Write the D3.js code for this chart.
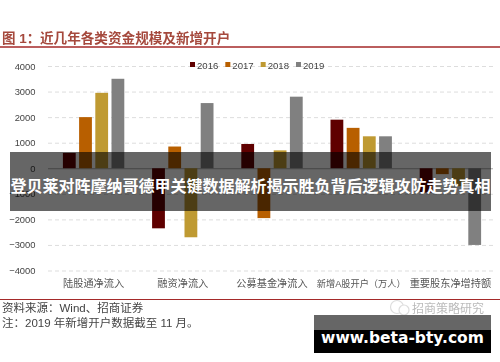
<!DOCTYPE html>
<html>
<head>
<meta charset="utf-8">
<script src="https://cdn.jsdelivr.net/npm/d3@7"></script>
<style>
html, body { margin: 0; padding: 0; background: #fff; }
svg { display: block; }
text { font-family: "Liberation Sans", "Noto Sans CJK SC", sans-serif; }
</style>
</head>
<body>
<div id="the_chart"></div>
<script>
var categories = ["陆股通净流入", "融资净流入", "公募基金净流入", "新增A股开户（万人）", "重要股东净增持额"];
var years = ["2016", "2017", "2018", "2019"];
var colors = ["#5e0000", "#b85f00", "#bf9a33", "#808080"];
var values2016 = [600, -2350, 950, 1900, -950];
var values2017 = [2000, 850, -1950, 1580, -230];
var values2018 = [2950, -2700, 700, 1250, -700];
var values2019 = [3500, 2550, 2800, 1250, -3000];
var series = [values2016, values2017, values2018, values2019];
var y_ticks = [4000, 3000, 2000, 1000, 0, -1000, -2000, -3000, -4000];

var w = 500;
var h = 362;

var svg = d3.select("#the_chart")
    .append("svg")
    .attr("width", w)
    .attr("height", h);

// the source is a soft screenshot, so the chart gets a little blur
var blur = svg.append("defs").append("filter")
    .attr("id", "soft")
    .attr("x", "-5%").attr("y", "-5%")
    .attr("width", "110%").attr("height", "110%");
blur.append("feGaussianBlur").attr("stdDeviation", 0.4);

var chart = svg.append("g").attr("filter", "url(#soft)");

var yscale = d3.scaleLinear() // 4000 -> -4000
    .domain([-4000, 4000])
    .range([270.5, 66]);
var xscale = d3.scaleBand()
    .domain(categories)
    .range([49, 495]);
var inner = d3.scaleBand() // bars inside one group
    .domain(years)
    .range([-30.7, 30.7])
    .paddingInner(0.21);

// title
chart.append("text")
    .attr("x", 2).attr("y", 43)
    .attr("font-size", 13.5)
    .attr("font-weight", "bold")
    .attr("fill", "#a5483c")
    .text("图 1：");
chart.append("text")
    .attr("x", 40).attr("y", 43)
    .attr("font-size", 13.6)
    .attr("font-weight", "bold")
    .attr("fill", "#a5483c")
    .text("近几年各类资金规模及新增开户");
chart.append("line")
    .attr("x1", 0).attr("x2", w)
    .attr("y1", 47).attr("y2", 47)
    .attr("stroke", "#a52a2a").attr("stroke-width", 1.5);

// y axis, the ticks double as dashed grid lines
var yaxis = d3.axisLeft()
    .scale(yscale)
    .tickValues(y_ticks)
    .tickFormat(function (d) { return d < 0 ? "−" + Math.abs(d) : d; })
    .tickSize(-445)
    .tickPadding(12.5);

var yg = chart.append("g")
    .attr("transform", "translate(48,0)")
    .call(yaxis);
yg.select(".domain").remove();
yg.selectAll("line")
    .attr("stroke", function (d) { return d === 0 ? "#aaa" : "#ddd"; })
    .attr("stroke-dasharray", function (d) { return d === 0 ? null : "4 3"; });
yg.selectAll("text")
    .attr("font-size", 9.4)
    .attr("font-family", "Liberation Sans")
    .attr("fill", "#444");

// bars
series.forEach(function (vals, s) {
    chart.append("g")
        .selectAll("rect")
        .data(vals)
        .enter().append("rect")
        .attr("x", function (d, i) {
            return xscale(categories[i]) + xscale.bandwidth() / 2 + inner(years[s]);
        })
        .attr("width", inner.bandwidth())
        .attr("y", function (d) { return yscale(Math.max(d, 0)); })
        .attr("height", function (d) { return Math.abs(yscale(d) - yscale(0)); })
        .attr("fill", colors[s]);
});

// category labels
chart.append("g")
    .selectAll("text")
    .data(categories)
    .enter().append("text")
    .attr("x", function (d) { return xscale(d) + xscale.bandwidth() / 2; })
    .attr("y", 287)
    .attr("text-anchor", "middle")
    .attr("font-size", function (d, i) { return i === 3 ? 9.2 : 10.2; })
    .attr("fill", "#555")
    .text(function (d) { return d; });

// legend
var legend_x = d3.scalePoint().domain(years).range([190, 296]);
var legend = chart.append("g")
    .selectAll("g")
    .data(years)
    .enter().append("g")
    .attr("transform", function (d) { return "translate(" + legend_x(d) + ",65)"; });
legend.append("rect")
    .attr("x", 0).attr("y", -3)
    .attr("width", 5).attr("height", 5)
    .attr("fill", function (d, i) { return colors[i]; });
legend.append("text")
    .attr("x", 7).attr("y", 3.5)
    .attr("font-size", 9.6)
    .attr("fill", "#444")
    .text(function (d) { return d; });

// footer
chart.append("line")
    .attr("x1", 0).attr("x2", w)
    .attr("y1", 299.5).attr("y2", 299.5)
    .attr("stroke", "#a52a2a").attr("stroke-width", 1.2);
chart.append("text")
    .attr("x", 2).attr("y", 312)
    .attr("font-size", 11.5)
    .attr("fill", "#444")
    .text("资料来源：Wind、招商证券");
chart.append("text")
    .attr("x", 2).attr("y", 327)
    .attr("font-size", 11.5)
    .attr("fill", "#444")
    .text("注：2019 年新增开户数据截至 11 月。");

// watermark
chart.append("circle")
    .attr("cx", 397).attr("cy", 307).attr("r", 6.5)
    .attr("fill", "none").attr("stroke", "#ddd").attr("stroke-width", 1.2);
chart.append("circle")
    .attr("cx", 404).attr("cy", 310).attr("r", 5)
    .attr("fill", "#fff").attr("stroke", "#ddd").attr("stroke-width", 1.2);
chart.append("text")
    .attr("x", 412).attr("y", 313)
    .attr("font-size", 12)
    .attr("fill", "#bbb")
    .text("招商策略研究");

// banner over the chart
svg.append("rect")
    .attr("x", 10).attr("y", 152)
    .attr("width", 481).attr("height", 59)
    .attr("fill", "#000").attr("fill-opacity", 0.6);
svg.append("text")
    .attr("x", 250.5).attr("y", 192)
    .attr("text-anchor", "middle")
    .attr("font-size", 16)
    .attr("font-weight", "bold")
    .attr("fill", "#fff")
    .style("font-family", '"Noto Sans CJK SC"')
    .text("登贝莱对阵摩纳哥德甲关键数据解析揭示胜负背后逻辑攻防走势真相");

// site stamp
svg.append("rect")
    .attr("x", 314).attr("y", 315)
    .attr("width", 177).attr("height", 15)
    .attr("fill", "#666");
svg.append("rect")
    .attr("x", 314).attr("y", 330)
    .attr("width", 177).attr("height", 23)
    .attr("fill", "#000");
svg.append("text")
    .attr("x", 402.5).attr("y", 343)
    .attr("text-anchor", "middle")
    .attr("font-size", 15.5)
    .attr("font-weight", "bold")
    .attr("fill", "#fff")
    .style("font-family", '"DejaVu Sans"')
    .text("www.beta-bty.com");
</script>
</body>
</html>
